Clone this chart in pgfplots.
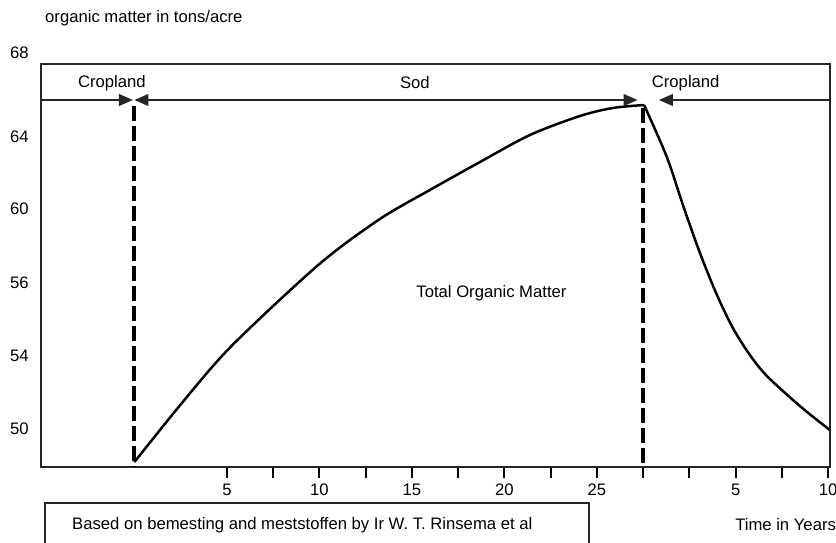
\documentclass[border=0pt]{standalone}
\usepackage{fontspec}
\setmainfont{Liberation Sans}
\usepackage{pgfplots}
\pgfplotsset{compat=1.18}
\usetikzlibrary{arrows.meta}
\begin{document}
\begin{tikzpicture}[x=1pt,y=1pt]
\begin{axis}[
    at={(0,0)}, anchor=south west,
    scale only axis,
    width=473.4pt, height=241.8pt,
    xmin=-5.05, xmax=37.6,
    ymin=0, ymax=403,
    clip=false,
    axis line style={line width=1.2pt, black!85},
    xtick={5,7.5,...,37.5},
    xticklabels={5,,10,,15,,20,,25,,,5,,10},
    ytick={38,111,184,258,330},
    yticklabels={50,54,56,60,64},
    xtick pos=bottom, ytick pos=left,
    tick align=outside,
    major tick length=6.6pt,
    xtick style={line width=1.2pt, black},
    ytick style={draw=none},
    yticklabel style={xshift=2.7pt},
    /pgf/number format/assume math mode=true,
]
% organic matter, rise under sod
\addplot[smooth, line width=1.5pt, black] coordinates {
    (0,5) (2.7,67) (5.3,122) (10,203) (13.27,248) (15.97,277)
    (18.68,305) (21.38,332) (24.08,351) (25.86,359) (27.55,362)
};
% decline under cropland
\addplot[smooth, line width=1.5pt, black] coordinates {
    (27.55,362) (28.78,310) (29.65,262) (30.57,214) (31.49,172)
    (32.35,139) (33.27,112) (34.19,91) (35.97,61) (37.59,37)
};

\draw[line width=2.4pt, dash pattern=on 9pt off 3pt] (axis cs:0,361) -- (axis cs:0,0);
\draw[line width=2.4pt, dash pattern=on 9pt off 3pt] (axis cs:27.5,359) -- (axis cs:27.5,0);

\draw[line width=1.2pt, black!85, -{Triangle[length=8.4pt,width=7pt]}]
    (axis cs:-5.05,367) -- (axis cs:-0.08,367);
\draw[line width=1.2pt, black!85, {Triangle[length=8.4pt,width=7pt]}-{Triangle[length=8.4pt,width=7pt]}]
    (axis cs:0,367) -- (axis cs:27.2,367);
\draw[line width=1.2pt, black!85, {Triangle[length=8.4pt,width=7pt]}-]
    (axis cs:28.35,367) -- (axis cs:37.6,367);

\node at (axis cs:-1.22,384) {Cropland};
\node at (axis cs:15.16,384) {Sod};
\node at (axis cs:29.8,384) {Cropland};
\node at (axis cs:19.3,174) {Total Organic Matter};

\node[anchor=east, xshift=-3.9pt] at (axis cs:-5.05,414) {68};
\node[anchor=west] at (axis cs:-5.14,449) {organic matter in tons/acre};

\draw[line width=1.2pt, black!85] (axis cs:24.57,-80) -- (axis cs:24.57,-36)
    -- (axis cs:-4.84,-36) -- (axis cs:-4.84,-80);
\node[anchor=west] at (axis cs:-3.68,-58) {Based on bemesting and meststoffen by Ir W. T. Rinsema et al};
\node[anchor=west] at (axis cs:32.16,-58) {Time in Years};
\end{axis}
\pgfresetboundingbox
\path[use as bounding box] (-24.6,-45) rectangle (477,280.2);
\end{tikzpicture}
\end{document}
